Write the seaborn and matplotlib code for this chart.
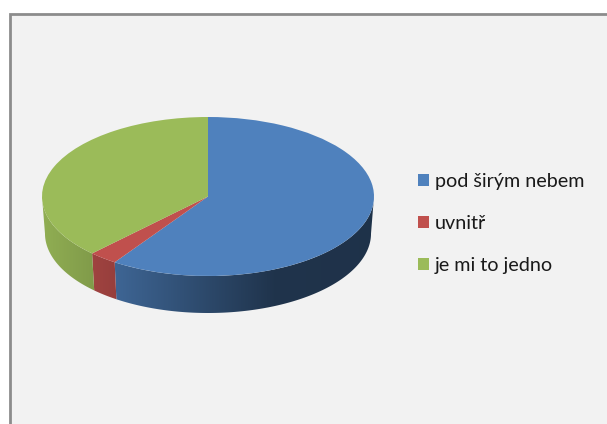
import numpy as np
import matplotlib
matplotlib.use("Agg")
import matplotlib.pyplot as plt
from matplotlib.colors import to_rgb
from matplotlib.patches import Polygon, Rectangle
import seaborn as sns

# --- DATA ---
labels = ["pod širým nebem", "uvnitř", "je mi to jedno"]
shares = [59.5, 2.8, 37.7]
colors = ["#4f81bd", "#c0504d", "#9bbb59"]

# --- LAYOUT (pixels of the 607x424 image) ---
W, H = 607, 424
CX, CY = 208, 196.5
RX, RY = 166, 79.5
DEPTH = 37 / RY
TAPER = 0.982

sns.set_theme(style="white")
plt.rcParams["font.family"] = ["Lato", "DejaVu Sans"]

fig = plt.figure(figsize=(W / 100, H / 100), dpi=100, facecolor="white")

# sheet behind the chart, its right and bottom edges run off the image
fig.add_artist(Rectangle((10.2 / W, -20 / H), (W + 20) / W, (H - 13.5 + 20) / H,
                         transform=fig.transFigure, facecolor="#f2f2f2",
                         edgecolor="#8c8c8c", linewidth=2.0, zorder=0))

ax = fig.add_axes([0, 0, 1, 1])
ax.patch.set_alpha(0)

wedges, _ = ax.pie(shares, colors=colors, startangle=90, counterclock=False,
                   wedgeprops={"linewidth": 0, "zorder": 3})
ax.set_aspect("auto")


def shade(x):
    # side of the disc darkens from left to right
    return np.interp(x, [-1, -0.6, 0.4, 1], [0.93, 0.8, 0.4, 0.39])


# side wall of the disc: a left-to-right gradient clipped to each slice's strip
edges = np.cumsum([0] + shares) * 3.6
for start, end, col in zip(edges[:-1], edges[1:], colors):
    lo, hi = max(start, 90), min(end, 270)
    if hi <= lo:
        continue
    t = np.radians(np.linspace(lo, hi, 200))
    xs, ys = np.sin(t), np.cos(t)
    outline = np.c_[np.r_[xs, xs[::-1] * TAPER], np.r_[ys, ys[::-1] - DEPTH]]
    wall = Polygon(outline, closed=True, facecolor="none", edgecolor="none",
                   transform=ax.transData)
    ax.add_patch(wall)
    grad_x = np.linspace(-1.05, 1.05, 400)
    grad = np.array(to_rgb(col))[None, None, :] * shade(grad_x)[None, :, None]
    im = ax.imshow(grad, extent=(-1.05, 1.05, -2, 1.5), aspect="auto", zorder=2,
                   interpolation="bilinear")
    im.set_clip_path(wall)

ax.set_aspect("auto")
ax.set_xlim(-CX / RX, (W - CX) / RX)
ax.set_ylim((CY - H) / RY, CY / RY)
ax.set_axis_off()

fs = 14.2
ax.legend(wedges, labels, loc="upper left", bbox_to_anchor=(418 / W, 1 - 172.5 / H),
          bbox_transform=fig.transFigure, frameon=False, fontsize=fs,
          labelcolor="#1a1a1a", handlelength=0.56, handleheight=0.56,
          handletextpad=0.31, labelspacing=1.27, borderpad=0, borderaxespad=0)

fig.savefig("out.png", dpi=100)
